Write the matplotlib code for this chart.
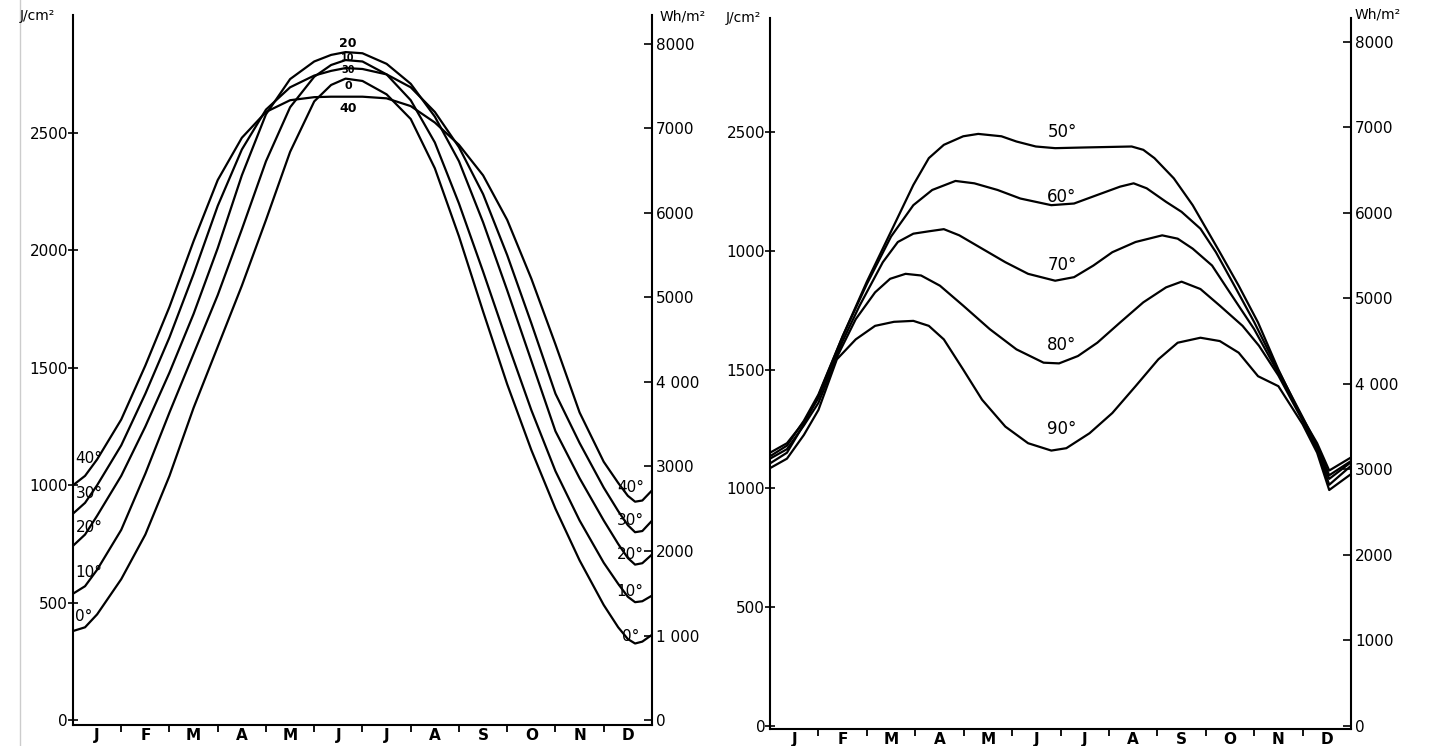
import matplotlib
matplotlib.use('Agg')
import matplotlib.pyplot as plt
from matplotlib.lines import Line2D

# month letters along the bottom
months = ['J', 'F', 'M', 'A', 'M', 'J', 'J', 'A', 'S', 'O', 'N', 'D']

# left chart: tilt 0..40 deg, J/cm2 per day, read at these month positions
left_x = [0, 0.25, 0.5, 1, 1.5, 2, 2.5, 3, 3.5, 4, 4.5, 5, 5.35, 5.65, 6, 6.5,
          7, 7.5, 8, 8.5, 9, 9.5, 10, 10.5, 11, 11.3, 11.5, 11.65, 11.8, 12]
tilt_0 = [379, 395, 450, 600, 790, 1040, 1330, 1590, 1850, 2130, 2420, 2635, 2705, 2732, 2722, 2665,
          2560, 2350, 2060, 1740, 1430, 1150, 900, 680, 490, 395, 345, 326, 334, 363]
tilt_10 = [538, 570, 640, 810, 1050, 1310, 1560, 1810, 2090, 2380, 2610, 2740, 2790, 2811, 2805, 2750,
           2640, 2460, 2200, 1910, 1610, 1320, 1060, 850, 670, 580, 525, 502, 506, 530]
tilt_20 = [742, 790, 870, 1040, 1250, 1480, 1730, 2010, 2320, 2580, 2730, 2805, 2833, 2845, 2840, 2795,
           2710, 2570, 2380, 2120, 1830, 1530, 1230, 1030, 850, 750, 690, 662, 668, 705]
tilt_30 = [879, 925, 1000, 1170, 1390, 1630, 1900, 2190, 2430, 2600, 2695, 2745, 2765, 2777, 2773, 2750,
           2695, 2590, 2440, 2240, 1980, 1690, 1390, 1180, 990, 890, 830, 800, 805, 849]
tilt_40 = [1000, 1040, 1110, 1280, 1510, 1760, 2040, 2300, 2480, 2590, 2640, 2653, 2655, 2655, 2655, 2648,
           2615, 2545, 2450, 2320, 2130, 1880, 1600, 1310, 1100, 1010, 955, 930, 935, 978]

# right chart: tilt 50..90 deg
x_50 = [0, 0.35, 0.7, 1.0, 1.5, 2.0, 2.56, 2.96, 3.28, 3.59, 3.99, 4.30, 4.78, 5.09, 5.49, 5.89,
        6.52, 7.47, 7.71, 7.94, 8.34, 8.73, 9.05, 9.29, 9.68, 10.08, 10.5, 11.0, 11.3, 11.55, 12]
tilt_50 = [1105, 1150, 1270, 1390, 1640, 1870, 2107, 2277, 2390, 2446, 2482, 2492, 2482, 2460, 2439, 2432,
           2435, 2439, 2425, 2390, 2305, 2192, 2079, 1994, 1853, 1698, 1500, 1290, 1165, 1015, 1095]
x_60 = [0, 0.35, 0.7, 1.0, 1.5, 2.0, 2.5, 2.96, 3.35, 3.83, 4.22, 4.70, 5.17, 5.81, 6.28, 6.76,
        7.23, 7.51, 7.78, 8.18, 8.50, 8.89, 9.21, 9.6, 10.0, 10.5, 11.0, 11.3, 11.55, 12]
tilt_60 = [1135, 1180, 1285, 1395, 1640, 1860, 2060, 2192, 2256, 2294, 2284, 2256, 2220, 2192, 2199, 2235,
           2270, 2284, 2263, 2206, 2164, 2093, 1994, 1850, 1700, 1495, 1300, 1180, 1055, 1115]
x_70 = [0, 0.35, 0.7, 1.0, 1.5, 1.85, 2.33, 2.64, 2.96, 3.28, 3.59, 3.91, 4.38, 4.86, 5.33, 5.89,
        6.28, 6.68, 7.07, 7.55, 8.10, 8.42, 8.73, 9.13, 9.45, 10.0, 10.5, 11.0, 11.3, 11.55, 12]
tilt_70 = [1150, 1190, 1280, 1380, 1620, 1769, 1952, 2037, 2072, 2082, 2091, 2065, 2009, 1952, 1903, 1874,
           1889, 1938, 1994, 2037, 2065, 2051, 2009, 1938, 1839, 1670, 1485, 1295, 1190, 1075, 1130]
x_80 = [0, 0.35, 0.7, 1.0, 1.4, 1.77, 2.17, 2.48, 2.80, 3.12, 3.51, 3.99, 4.54, 5.09, 5.65, 5.97,
        6.36, 6.76, 7.23, 7.71, 8.18, 8.50, 8.89, 9.29, 9.76, 10.1, 10.5, 11.0, 11.3, 11.55, 12]
tilt_80 = [1125, 1165, 1265, 1360, 1560, 1712, 1825, 1882, 1903, 1896, 1853, 1769, 1670, 1585, 1529, 1526,
           1557, 1613, 1698, 1783, 1846, 1870, 1839, 1769, 1684, 1600, 1475, 1285, 1165, 1040, 1110]
x_90 = [0, 0.35, 0.7, 1.0, 1.38, 1.77, 2.17, 2.56, 2.96, 3.28, 3.59, 3.99, 4.38, 4.86, 5.33, 5.81,
        6.12, 6.60, 7.07, 7.55, 8.02, 8.42, 8.89, 9.29, 9.68, 10.08, 10.5, 11.0, 11.3, 11.55, 12]
tilt_90 = [1085, 1125, 1225, 1330, 1543, 1627, 1684, 1701, 1705, 1684, 1627, 1500, 1373, 1260, 1190, 1159,
           1169, 1232, 1317, 1430, 1543, 1613, 1634, 1620, 1571, 1472, 1430, 1270, 1150, 993, 1060]

left_yticks = ['0', '500', '1000', '1500', '2000', '2500']
right_yticks = ['0', '500', '1000', '1500', '1000', '2500']   # as written on the drawing
left_wh = ['0', '1 000', '2000', '3000', '4 000', '5000', '6000', '7000', '8000']
right_wh = ['0', '1000', '2000', '3000', '4 000', '5000', '6000', '7000', '8000']

J_PER_WH = 0.36   # 1 Wh/m2 = 0.36 J/cm2

fig = plt.figure(figsize=(14.31, 7.46), dpi=100)
ax1 = fig.add_axes([0.051, 0.0282, 0.4046, 0.9517])
ax2 = fig.add_axes([0.5381, 0.0228, 0.406, 0.9531])

# page edge of the scan
fig.add_artist(Line2D([20 / 1431, 20 / 1431], [0, 1], color='0.8', lw=1))


def setup(ax, ylo, yhi, ylabels, whlabels):
    ax.set_xlim(0, 12)
    ax.set_ylim(ylo, yhi)
    ax.spines['top'].set_visible(False)
    for s in ax.spines.values():
        s.set_linewidth(1.5)
    ax.set_xticks(range(1, 12))
    ax.set_xticklabels([])
    ax.set_xticks([i + 0.5 for i in range(12)], minor=True)
    ax.set_xticklabels(months, minor=True, fontsize=11, fontweight='bold')
    ax.tick_params(axis='x', which='major', direction='out', length=5, width=1.3)
    ax.tick_params(axis='x', which='minor', length=0, pad=2)
    ax.set_yticks(range(0, 3000, 500))
    ax.set_yticklabels(ylabels, fontsize=11)
    ax.tick_params(axis='y', direction='inout', length=7, width=1.2, pad=0)
    tw = ax.twinx()
    tw.set_ylim(ylo / J_PER_WH, yhi / J_PER_WH)
    tw.set_yticks(range(0, 9000, 1000))
    tw.set_yticklabels(whlabels, fontsize=11)
    tw.tick_params(direction='in', length=6, width=1.2, pad=3)
    for s in tw.spines.values():
        s.set_visible(False)
    return tw


setup(ax1, -21, 3003, left_yticks, left_wh)
setup(ax2, -13, 2980, right_yticks, right_wh)

kw = dict(color='black', lw=1.6, solid_joinstyle='round', solid_capstyle='round')
for vals in [tilt_0, tilt_10, tilt_20, tilt_30, tilt_40]:
    ax1.plot(left_x, vals, **kw)
for xs, vals in [(x_50, tilt_50), (x_60, tilt_60), (x_70, tilt_70), (x_80, tilt_80), (x_90, tilt_90)]:
    ax2.plot(xs, vals, **kw)

# curve labels, left chart
for txt, y in [('40°', 1116), ('30°', 966), ('20°', 822), ('10°', 630), ('0°', 439)]:
    ax1.text(0.05, y, txt, fontsize=11, ha='left', va='center')
for txt, y in [('40°', 990), ('30°', 850), ('20°', 705), ('10°', 547), ('0°', 356)]:
    ax1.text(11.55, y, txt, fontsize=11, ha='center', va='center')
for txt, y, fs in [('20', 2880, 9), ('10', 2818, 7), ('30', 2770, 7), ('0', 2700, 8), ('40', 2606, 9)]:
    ax1.text(5.7, y, txt, fontsize=fs, ha='center', va='center', fontweight='bold')

# curve labels, right chart
for txt, y in [('50°', 2500), ('60°', 2228), ('70°', 1942), ('80°', 1605), ('90°', 1248)]:
    ax2.text(6.03, y, txt, fontsize=12, ha='center', va='center')

# units
fig.text(20 / 1431, 1 - 16 / 746, 'J/cm²', fontsize=10, va='center')
fig.text(660 / 1431, 1 - 16 / 746, 'Wh/m²', fontsize=10, va='center')
fig.text(726 / 1431, 1 - 18 / 746, 'J/cm²', fontsize=10, va='center')
fig.text(1355 / 1431, 1 - 14 / 746, 'Wh/m²', fontsize=10, va='center')

fig.savefig('out.png', dpi=100)
